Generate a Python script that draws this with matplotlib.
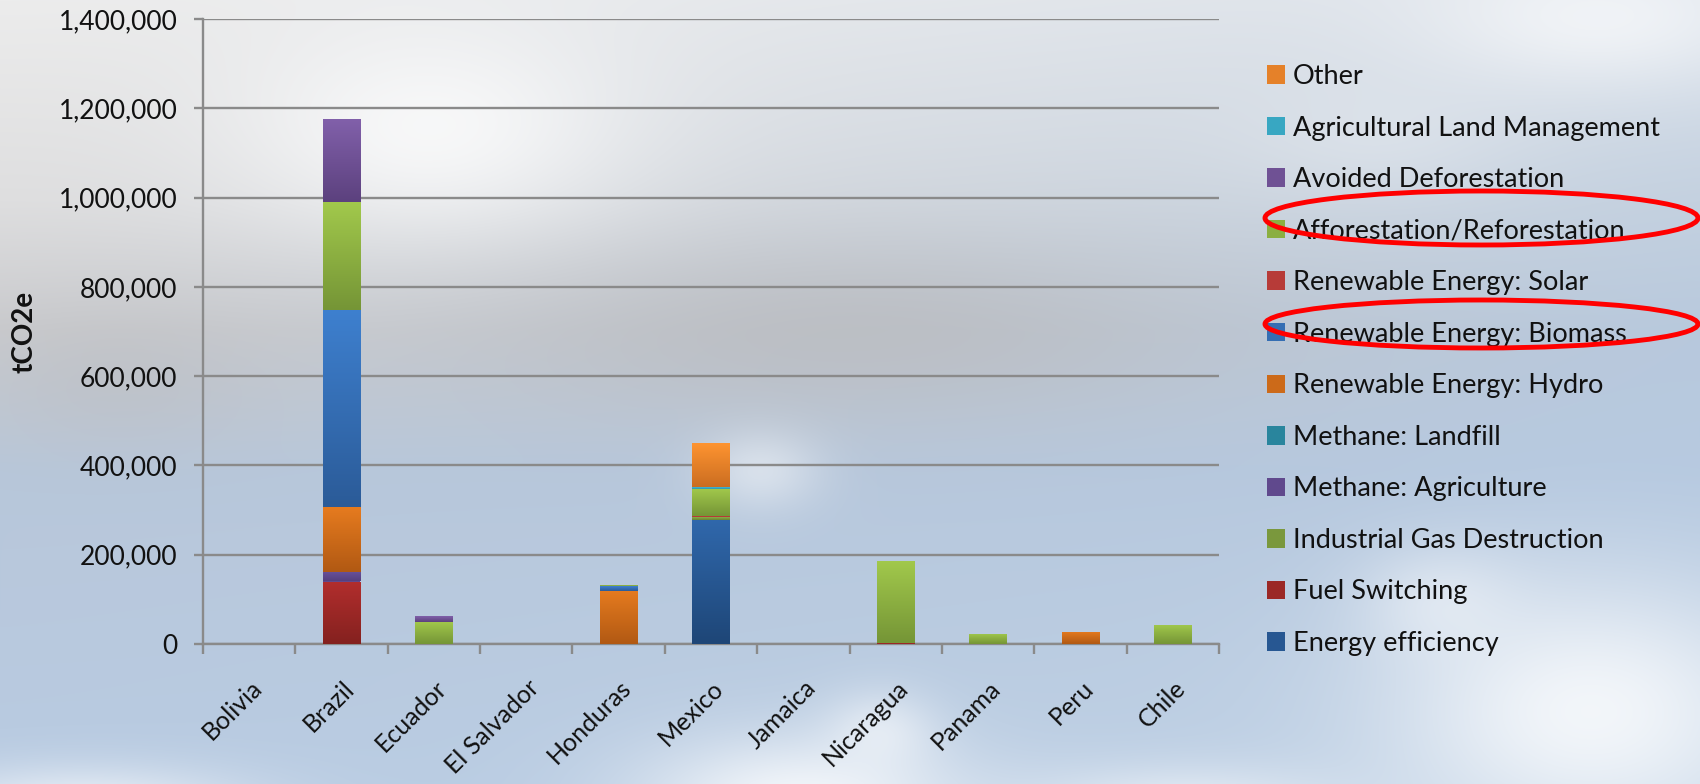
import numpy as np
import matplotlib
matplotlib.use("Agg")
import matplotlib.pyplot as plt
from matplotlib.patches import Ellipse
from matplotlib.ticker import FuncFormatter, FixedLocator
from matplotlib.transforms import ScaledTranslation

plt.rcParams['font.family'] = ['Lato', 'DejaVu Sans']

# ---- data (tCO2e per country and project type) ----
countries = ['Bolivia', 'Brazil', 'Ecuador', 'El Salvador', 'Honduras', 'Mexico',
             'Jamaica', 'Nicaragua', 'Panama', 'Peru', 'Chile']

energy_efficiency     = [0, 0,      0,     0, 0,      278000, 0, 0,      0,     0,     0]
fuel_switching        = [0, 140000, 0,     0, 0,      0,      0, 2000,   0,     0,     0]
industrial_gas        = [0, 0,      0,     0, 0,      6000,   0, 0,      0,     0,     0]
methane_agriculture   = [0, 22000,  0,     0, 0,      0,      0, 0,      0,     0,     0]
methane_landfill      = [0, 0,      0,     0, 0,      0,      0, 0,      0,     0,     0]
re_hydro              = [0, 145000, 0,     0, 119000, 0,      0, 0,      0,     28000, 0]
re_biomass            = [0, 442000, 0,     0, 11000,  0,      0, 0,      0,     0,     0]
re_solar              = [0, 0,      0,     0, 0,      2000,   0, 0,      0,     0,     0]
afforestation         = [0, 242000, 50000, 0, 2000,   62000,  0, 184000, 23000, 0,     43000]
avoided_deforestation = [0, 185000, 12000, 0, 0,      0,      0, 0,      0,     0,     0]
agri_land_management  = [0, 0,      0,     0, 0,      3000,   0, 0,      0,     0,     0]
other                 = [0, 0,      0,     0, 0,      100000, 0, 0,      0,     0,     0]

series_names = ['Energy efficiency', 'Fuel Switching', 'Industrial Gas Destruction',
                'Methane: Agriculture', 'Methane: Landfill', 'Renewable Energy: Hydro',
                'Renewable Energy: Biomass', 'Renewable Energy: Solar',
                'Afforestation/Reforestation', 'Avoided Deforestation',
                'Agricultural Land Management', 'Other']
series_values = [energy_efficiency, fuel_switching, industrial_gas, methane_agriculture,
                 methane_landfill, re_hydro, re_biomass, re_solar, afforestation,
                 avoided_deforestation, agri_land_management, other]
# (top, bottom) shades of each series' vertical gradient
series_shades = [('#3068AC', '#1E4677'), ('#B22E2D', '#84211F'), ('#8CAC47', '#688333'),
                 ('#6A529C', '#55407E'), ('#2F96B0', '#22738A'), ('#E67B1F', '#B15913'),
                 ('#3E80CF', '#2B5B98'), ('#CC433F', '#A23331'), ('#A2C94C', '#759536'),
                 ('#8160AA', '#5C417E'), ('#42B8D6', '#2E95AE'), ('#FF9531', '#CB6D21')]

W, H = 1700, 784


def hex_rgb(h):
    h = h.lstrip('#')
    return np.array([int(h[i:i + 2], 16) for i in (0, 2, 4)]) / 255.0


# ---- sky backdrop ----
yy, xx = np.mgrid[0:H, 0:W].astype(float)
stops = np.array([0, 200, 330, 470, 784], float)
left_cols = np.array([(236, 236, 236), (222, 222, 223), (202, 203, 206),
                      (184, 199, 218), (184, 203, 226)], float) / 255
right_cols = np.array([(218, 225, 234), (196, 209, 224), (184, 201, 221),
                       (182, 201, 224), (194, 211, 230)], float) / 255
bg = np.zeros((H, W, 3))
for ch in range(3):
    lc = np.interp(yy[:, 0], stops, left_cols[:, ch])[:, None]
    rc = np.interp(yy[:, 0], stops, right_cols[:, ch])[:, None]
    t = (xx / W) ** 1.2
    bg[:, :, ch] = lc * (1 - t) + rc * t


def blob(cx, cy, sx, sy, strength, color):
    global bg
    a = strength * np.exp(-(((xx - cx) / sx) ** 2 + ((yy - cy) / sy) ** 2))
    bg = bg * (1 - a[..., None]) + np.array(color)[None, None, :] * a[..., None]


white = (1.0, 1.0, 1.0)
grey = (0.72, 0.72, 0.73)
blob(850, 330, 380, 95, 0.6, grey)
blob(120, 380, 140, 70, 0.35, grey)
blob(430, 130, 200, 110, 0.75, white)
blob(1600, 20, 180, 70, 0.6, white)
blob(1380, 140, 140, 60, 0.2, white)
blob(760, 470, 60, 40, 0.45, white)
blob(800, 800, 160, 65, 0.8, white)
blob(880, 730, 55, 40, 0.5, white)
blob(1590, 710, 200, 130, 0.8, white)
blob(1440, 600, 80, 55, 0.4, white)
blob(80, 805, 170, 40, 0.65, white)
blob(1180, 805, 160, 40, 0.55, white)
bg = np.clip(bg, 0, 1)

fig = plt.figure(figsize=(W / 100, H / 100), dpi=100)
bg_ax = fig.add_axes([0, 0, 1, 1], zorder=-10)
bg_ax.imshow(bg, aspect='auto', extent=(0, 1, 0, 1), interpolation='bilinear')
bg_ax.axis('off')

ax = fig.add_axes([203 / W, 1 - 644 / H, (1219 - 203) / W, (644 - 19) / H])
ax.set_facecolor('none')

x = np.arange(len(countries))
bar_w = 0.41
bottom = np.zeros(len(countries))
containers = []
for name, vals, (top_c, bot_c) in zip(series_names, series_values, series_shades):
    vals = np.array(vals, float)
    mid = (hex_rgb(top_c) + hex_rgb(bot_c)) / 2
    bc = ax.bar(x, vals, bar_w, bottom=bottom, color=mid, label=name, zorder=3,
                linewidth=0)
    containers.append(bc)
    grad = np.linspace(0, 1, 128)[:, None, None]
    img = hex_rgb(top_c)[None, None, :] * (1 - grad) + hex_rgb(bot_c)[None, None, :] * grad
    for p in bc.patches:
        if p.get_height() <= 0:
            continue
        im = ax.imshow(img, extent=(p.get_x(), p.get_x() + p.get_width(),
                                    p.get_y(), p.get_y() + p.get_height()),
                       origin='upper', aspect='auto', zorder=3.1,
                       interpolation='bilinear')
        im.set_clip_path(p)
    bottom += vals

ax.set_xlim(-0.5, len(countries) - 0.5)
ax.set_ylim(0, 1400000)

grid_c = '#8A8A8A'
ax.yaxis.set_major_locator(FixedLocator(np.arange(0, 1400001, 200000)))
ax.yaxis.set_major_formatter(FuncFormatter(lambda v, _: f'{int(v):,}'))
ax.grid(axis='y', color=grid_c, linewidth=1.7, zorder=1)
ax.set_axisbelow(True)
for s in ('top', 'right'):
    ax.spines[s].set_visible(False)
for s in ('left', 'bottom'):
    ax.spines[s].set_color(grid_c)
    ax.spines[s].set_linewidth(1.7)

ax.tick_params(axis='y', which='major', length=6.5, width=1.7, color=grid_c,
               labelsize=19, pad=12, labelcolor='#111111')
# boundary ticks between categories, labels at the category centres
ax.set_xticks(np.arange(-0.5, len(countries)), [''] * (len(countries) + 1))
ax.set_xticks(x, countries, minor=True)
ax.tick_params(axis='x', which='major', length=7, width=1.7, color=grid_c)
ax.tick_params(axis='x', which='minor', length=0, pad=29, labelsize=18,
               labelcolor='#111111')
shift = ScaledTranslation(0.09, 0, fig.dpi_scale_trans)
for lab in ax.get_xticklabels(minor=True):
    lab.set_rotation(45)
    lab.set_ha('right')
    lab.set_va('center')
    lab.set_rotation_mode('anchor')
    lab.set_transform(lab.get_transform() + shift)

ax.set_ylabel('tCO2e', fontsize=20, fontweight='bold', color='#111111')
ax.yaxis.set_label_coords(-0.163, 0.5)

ax.legend(containers[::-1], series_names[::-1], loc='upper left',
          bbox_to_anchor=(1267 / W, 1 - 64 / H), bbox_transform=fig.transFigure,
          frameon=False, fontsize=19.5, handlelength=0.67, handleheight=0.67,
          handletextpad=0.28, labelspacing=0.98, borderaxespad=0, borderpad=0,
          labelcolor='#111111')

# hand-drawn highlight rings around two legend entries
for cy, hgt in ((218, 54), (324, 48)):
    fig.add_artist(Ellipse(((1265 + 1698) / 2 / W, 1 - cy / H), 433 / W, hgt / H,
                           transform=fig.transFigure, fill=False,
                           edgecolor='#FF0000', linewidth=3.5, zorder=20))

fig.savefig('out.png', dpi=100)
